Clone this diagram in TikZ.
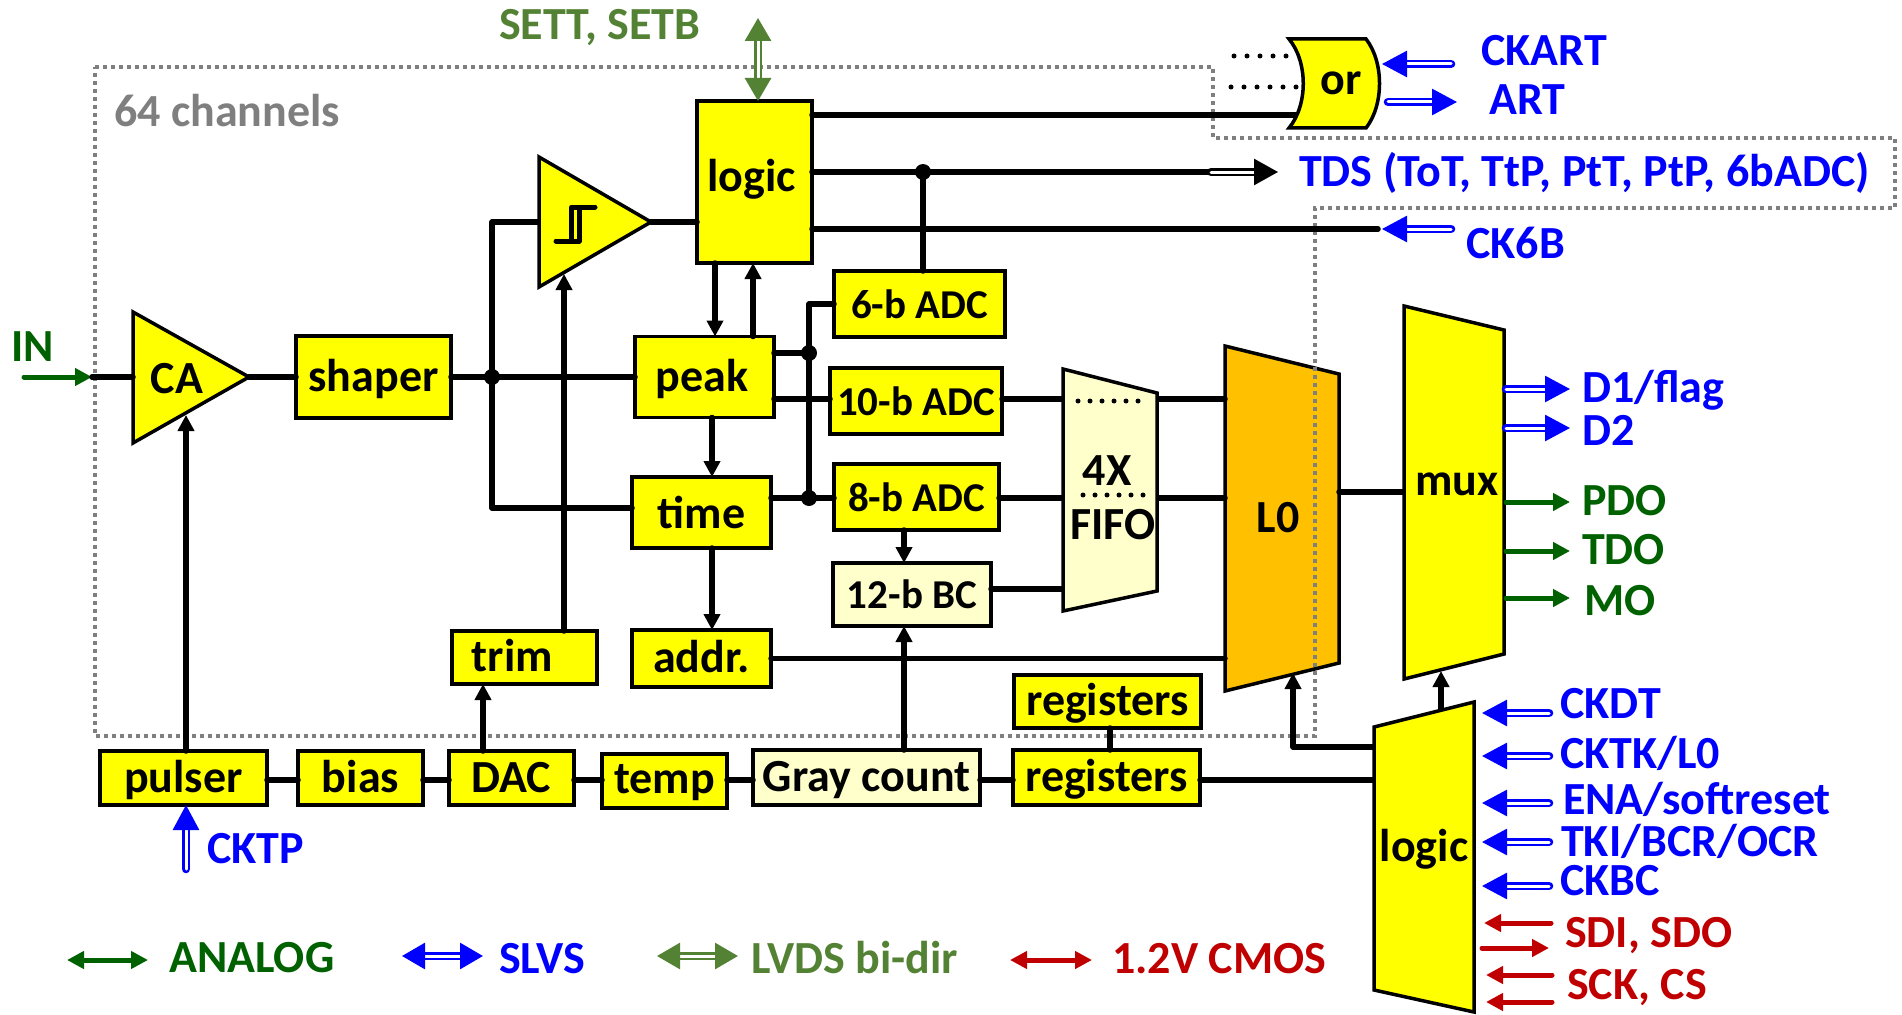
\documentclass[tikz,border=0pt]{standalone}
\usepackage{fontspec}
\setmainfont{Carlito}
\usepackage{tikz}
\usetikzlibrary{positioning,shapes,arrows.meta}
\definecolor{analog}{RGB}{0,97,0}
\definecolor{lvds}{RGB}{84,130,53}
\definecolor{cmosred}{RGB}{192,0,0}
\definecolor{paley}{RGB}{255,255,204}
\definecolor{orng}{RGB}{255,192,0}
\definecolor{yel}{RGB}{255,255,0}
\definecolor{sblue}{RGB}{0,0,255}
\definecolor{chgray}{RGB}{127,127,127}

\begin{document}
\begin{tikzpicture}[x=1pt,y=-1pt]
      \tikzstyle{blk} = [rectangle, draw, line width=3.5pt, fill=yel, inner sep=0pt, outer sep=0pt,
      font=\fontsize{46}{46}\selectfont\bfseries, text height=28pt, text depth=0pt]
      \tikzstyle{adc} = [font=\fontsize{41}{41}\selectfont\bfseries]
      \tikzstyle{poly} = [draw, line width=3.5pt, line join=miter, fill=yel]
      \tikzstyle{lab} = [inner sep=0pt, anchor=west, text height=29pt, text depth=0pt,
      font=\fontsize{46}{46}\selectfont\bfseries]
      \tikzstyle{txt} = [inner sep=0pt, font=\fontsize{46}{46}\selectfont\bfseries]
      \tikzstyle{wire} = [line width=5.5pt, line cap=round, line join=round]
      \tikzstyle{warr} = [wire, -{Triangle[length=16pt,width=16pt]}]
      \tikzstyle{hollow} = [line width=2.8pt, double=white, double distance=3pt, line cap=round]
      \tikzstyle{slvs} = [hollow, sblue, -{Triangle[length=25pt,width=26pt]}]
      \tikzstyle{sig} = [line width=5pt, line cap=round, -{Triangle[length=17pt,width=17pt]}]
      \tikzstyle{dots} = [line width=5pt, line cap=round, dash pattern=on 0pt off 13pt]
      \useasboundingbox (0,0) rectangle (1902,1014);

      % x and y positions of the wires
      \coordinate (x1) at (715,0); \coordinate (x2) at (753,0); \coordinate (x3) at (712,0);
      \coordinate (x4) at (904,0); \coordinate (x5) at (186,0); \coordinate (x6) at (483,0);
      \coordinate (x7) at (564,0); \coordinate (x8) at (1110,0);
      \coordinate (fl) at (1063,0); \coordinate (fr) at (1157,0);
      \coordinate (ll) at (1225,0); \coordinate (lr) at (1339,0); \coordinate (ml) at (1404,0);
      \coordinate (gl) at (1374,0);
      \coordinate (r10) at (0,399); \coordinate (r12) at (0,589); \coordinate (rbus) at (0,780);
      \coordinate (rmux) at (0,492); \coordinate (rlo) at (0,747);

      % L0 and the channel outline
      \fill[draw,line width=3.5pt,fill=orng] (1225,346) -- (1339,374) -- (1339,663) -- (1225,691) -- cycle;
      \draw[chgray,line width=3.5pt,dash pattern=on 4pt off 4pt] (95,67) -- (1213,67) -- (1213,138)
      -- (1895,138) -- (1895,208) -- (1315,208) -- (1315,736) -- (95,736) -- cycle;
      \node[lab,chgray] (chan) at (114,112) {64 channels};

      \coordinate (catip) at (249,377); \coordinate (cmpin) at (539,222); \coordinate (cmptip) at (651,222);
      \coordinate (busl) at (492,222); \coordinate (busb) at (492,508); \coordinate (j1) at (492,377);
      \coordinate (j2) at (923,172); \coordinate (j3) at (809,353); \coordinate (j4) at (809,498);
      \coordinate (orin) at (1300,115); \coordinate (tdsg) at (1211,172); \coordinate (ckg) at (1378,229);
      \coordinate (cab) at (186,415); \coordinate (cmpb) at (564,274);
      \coordinate (muxb) at (1441,671); \coordinate (gt) at (1441,710); \coordinate (lob) at (1293,673);

      \node[blk,minimum width=155pt,minimum height=82pt] (shaper) at (373.5,377) {shaper};
      \node[blk,minimum width=115pt,minimum height=162pt,text depth=10pt] (logic) at (754.5,182) {logic\kern6pt};
      \node[blk,minimum width=139pt,minimum height=81pt] (peak) at (704.5,377) {peak\kern5pt};
      \node[blk,minimum width=139pt,minimum height=71pt,text height=32pt] (time) at (701.5,512.5) {time};
      \node[blk,minimum width=139pt,minimum height=57pt] (addr) at (701.5,658.5) {addr.};
      \node[blk,minimum width=145pt,minimum height=53pt] (trim) at (524.5,657.5) {trim\kern24pt};
      \node[blk,adc,minimum width=171pt,minimum height=66pt] (adc6) at (919.5,304) {6-b ADC};
      \node[blk,adc,minimum width=172pt,minimum height=66pt] (adc10) at (916,401) {10-b ADC};
      \node[blk,adc,minimum width=165pt,minimum height=66pt] (adc8) at (916.5,497) {8-b ADC};
      \node[blk,adc,fill=paley,minimum width=158pt,minimum height=63pt] (bc) at (912,594.5) {12-b BC};
      \node[blk,minimum width=167pt,minimum height=54pt] (pulser) at (183.5,778) {pulser};
      \node[blk,minimum width=125pt,minimum height=54pt] (bias) at (360.5,778) {bias};
      \node[blk,minimum width=125pt,minimum height=54pt] (dac) at (511.5,778) {DAC};
      \node[blk,minimum width=125pt,minimum height=54pt,text height=25pt] (temp) at (664.5,781) {temp};
      \node[blk,fill=paley,minimum width=227pt,minimum height=55pt] (gray) at (866.5,777.5) {Gray count};
      \node[blk,minimum width=187pt,minimum height=55pt] (regl) at (1106.5,777.5) {registers};
      \node[blk,minimum width=187pt,minimum height=53pt] (regu) at (1107.5,701.5) {registers};

      \draw[wire] (catip) -- (shaper.west);
      \draw[wire] (shaper.east) -- (peak.west);
      \draw[wire] (cmpin) -- (busl) -- (busb) -- (time.west |- busb);
      \draw[wire] (cmptip) -- (logic.west |- cmptip);
      \draw[wire] (logic.east |- orin) -- (orin);
      \draw[wire] (logic.east |- tdsg) -- (tdsg);
      \draw[wire] (logic.east |- ckg) -- (ckg);
      \draw[wire] (j2) -- (j2 |- adc6.north);
      \draw[wire] (adc6.west) -- (adc6.west -| j4) -- (j4);
      \draw[wire] (peak.east |- j3) -- (j3);
      \draw[wire] (time.east |- j4) -- (adc8.west |- j4);
      \draw[wire] (peak.east |- r10) -- (adc10.west |- r10);
      \draw[wire] (adc10.east |- r10) -- (fl |- r10);
      \draw[wire] (fr |- r10) -- (ll |- r10);
      \draw[wire] (adc8.east |- j4) -- (fl |- j4);
      \draw[wire] (fr |- j4) -- (ll |- j4);
      \draw[wire] (bc.east |- r12) -- (fl |- r12);
      \draw[wire] (addr.east) -- (ll |- addr.east);
      \draw[wire] (lr |- rmux) -- (ml |- rmux);
      \draw[wire] (pulser.east |- rbus) -- (bias.west |- rbus);
      \draw[wire] (bias.east |- rbus) -- (dac.west |- rbus);
      \draw[wire] (dac.east |- rbus) -- (temp.west |- rbus);
      \draw[wire] (temp.east |- rbus) -- (gray.west |- rbus);
      \draw[wire] (gray.east |- rbus) -- (regl.west |- rbus);
      \draw[wire] (regl.east |- rbus) -- (gl |- rbus);
      \draw[wire] (regu.south -| x8) -- (regl.north -| x8);
      \draw[warr] (logic.south -| x1) -- (peak.north -| x1);
      \draw[warr] (peak.north -| x2) -- (logic.south -| x2);
      \draw[warr] (peak.south -| x3) -- (time.north -| x3);
      \draw[warr] (time.south -| x3) -- (addr.north -| x3);
      \draw[warr] (adc8.south -| x4) -- (bc.north -| x4);
      \draw[warr] (gray.north -| x4) -- (bc.south -| x4);
      \draw[warr] (pulser.north -| x5) -- (cab);
      \draw[warr] (dac.north -| x6) -- (trim.south -| x6);
      \draw[warr] (trim.north -| x7) -- (cmpb);
      \draw[warr] (gt) -- (muxb);
      \draw[warr] (gl |- rlo) -- (lob |- rlo) -- (lob);
      \fill (j1) circle (8pt); \fill (j2) circle (8pt); \fill (j3) circle (8pt); \fill (j4) circle (8pt);

      % amplifier, comparator, gate and muxes
      \draw[poly] (133,312) -- (catip) -- (133,443) -- cycle;
      \node[txt] (ca) at (177,379) {CA};
      \draw[poly] (539,157) -- (cmptip) -- (539,287) -- cycle;
      \draw[line width=5pt,line cap=round,line join=round] (556,241) -- (579,241) -- (579,207) -- (595,207)
      (579,207) -- (571.5,207) -- (571.5,241);
      \draw[poly] (1289,39) -- (1366,39) .. controls (1384,62) and (1384,105) .. (1366,128) -- (1289,128)
      .. controls (1308,105) and (1308,62) .. (1289,39) -- cycle;
      \node[txt] (orgate) at (1341,83) {or};
      \draw[dots] (1234,56) -- (1299,56); \draw[dots] (1231,87) -- (1301,87);
      \fill[draw,line width=3.5pt,fill=paley] (1063,369) -- (1157,393) -- (1157,591) -- (1063,611) -- cycle;
      \draw[dots,dash pattern=on 0pt off 12pt] (1078,401) -- (1138,401);
      \draw[dots,dash pattern=on 0pt off 12pt] (1083,495) -- (1143,495);
      \node[txt] (fourx) at (1107,471) {4X};
      \node[txt] (fifo) at (1113,525) {FIFO};
      \node[txt] (lzero) at (1278,518) {L0};
      \draw[poly] (1404,306) -- (1504,330) -- (1504,654) -- (1404,679) -- cycle;
      \node[txt] (mux) at (1457,484) {mux};
      \draw[poly] (1374,727) -- (1474,702) -- (1474,1012) -- (1374,990) -- cycle;
      \node[txt] (clogic) at (1424,849) {logic};

      % signals
      \coordinate (ina) at (24,377); \coordinate (inb) at (92,377);
      \draw[sig,analog] (ina) -- (inb); \draw[wire] (inb) -- (133,377);
      \node[lab,analog] (in) at (11,347) {IN};
      \node[lab,lvds] (sett) at (499,25) {SETT, SETB};
      \coordinate (setb) at (758,18);
      \draw[hollow,lvds,{Triangle[length=23pt,width=26pt]}-{Triangle[length=23pt,width=26pt]}] (setb) -- (logic.north -| setb);
      \coordinate (ckas) at (1451,64); \coordinate (ckae) at (1382,64);
      \draw[slvs] (ckas) -- (ckae);
      \node[lab,sblue] (ckart) at (1481,51) {CKART};
      \coordinate (arts) at (1388,102); \coordinate (arte) at (1457,102);
      \draw[slvs] (arts) -- (arte);
      \node[lab,sblue] (art) at (1489,100) {ART};
      \coordinate (tdse) at (1278,172);
      \draw[hollow,black,-{Triangle[length=24pt,width=26pt]}] (tdsg) -- (tdse);
      \node[lab,sblue] (tds) at (1299,172) {TDS (ToT, TtP, PtT, PtP, 6bADC)};
      \coordinate (cks) at (1451,229); \coordinate (cke) at (1382,229);
      \draw[slvs] (cks) -- (cke);
      \node[lab,sblue] (ck6b) at (1466,244) {CK6B};

      \coordinate (d1s) at (1506,389); \coordinate (d1e) at (1570,389);
      \draw[slvs] (d1s) -- (d1e);
      \node[lab,sblue] (d1) at (1582,388) {D1/flag};
      \coordinate (d2s) at (1506,428); \coordinate (d2e) at (1570,428);
      \draw[slvs] (d2s) -- (d2e);
      \node[lab,sblue] (d2) at (1582,431) {D2};
      \coordinate (pdos) at (1506,502); \coordinate (pdoe) at (1570,502);
      \draw[sig,analog] (pdos) -- (pdoe);
      \node[lab,analog] (pdo) at (1582,501) {PDO};
      \coordinate (tdos) at (1506,551); \coordinate (tdoe) at (1570,551);
      \draw[sig,analog] (tdos) -- (tdoe);
      \node[lab,analog] (tdo) at (1582,550) {TDO};
      \coordinate (mos) at (1506,598); \coordinate (moe) at (1570,598);
      \draw[sig,analog] (mos) -- (moe);
      \node[lab,analog] (mo) at (1584,601) {MO};

      \coordinate (tps) at (186,869);
      \draw[slvs] (tps) -- (pulser.south -| tps);
      \node[lab,sblue] (cktp) at (207,849) {CKTP};

      \coordinate (dts) at (1549,713); \coordinate (dte) at (1482,713);
      \draw[slvs] (dts) -- (dte);
      \node[lab,sblue] (ckdt) at (1560,704) {CKDT};
      \coordinate (tks) at (1549,756); \coordinate (tke) at (1482,756);
      \draw[slvs] (tks) -- (tke);
      \node[lab,sblue] (cktk) at (1560,754) {CKTK/L0};
      \coordinate (ens) at (1549,803); \coordinate (ene) at (1482,803);
      \draw[slvs] (ens) -- (ene);
      \node[lab,sblue] (ena) at (1563,800) {ENA/softreset};
      \coordinate (tis) at (1549,842); \coordinate (tie) at (1482,842);
      \draw[slvs] (tis) -- (tie);
      \node[lab,sblue] (tki) at (1561,842) {TKI/BCR/OCR};
      \coordinate (bcs) at (1549,886); \coordinate (bce) at (1482,886);
      \draw[slvs] (bcs) -- (bce);
      \node[lab,sblue] (ckbc) at (1560,881) {CKBC};

      \coordinate (sis) at (1551,923); \coordinate (sie) at (1484,923);
      \draw[sig,cmosred] (sis) -- (sie);
      \coordinate (sos) at (1482,948); \coordinate (soe) at (1549,948);
      \draw[sig,cmosred] (sos) -- (soe);
      \node[lab,cmosred] (sdi) at (1565,933) {SDI, SDO};
      \coordinate (sks) at (1552,975); \coordinate (ske) at (1486,975);
      \draw[sig,cmosred] (sks) -- (ske);
      \coordinate (css) at (1552,1002); \coordinate (cse) at (1486,1002);
      \draw[sig,cmosred] (css) -- (cse);
      \node[lab,cmosred] (sck) at (1567,985) {SCK, CS};

      % legend
      \tikzstyle{both} = [{Triangle[length=17pt,width=17pt]}-{Triangle[length=17pt,width=17pt]}]
      \coordinate (las) at (67,960); \coordinate (lae) at (148,960);
      \draw[line width=5pt,analog,both] (las) -- (lae);
      \node[lab,analog] (lana) at (169,958) {ANALOG};
      \coordinate (lbs) at (402,956); \coordinate (lbe) at (483,956);
      \draw[hollow,sblue,{Triangle[length=23pt,width=26pt]}-{Triangle[length=23pt,width=26pt]}] (lbs) -- (lbe);
      \node[lab,sblue] (lslvs) at (499,959) {SLVS};
      \coordinate (lcs) at (657,956); \coordinate (lce) at (738,956);
      \draw[hollow,lvds,{Triangle[length=23pt,width=26pt]}-{Triangle[length=23pt,width=26pt]}] (lcs) -- (lce);
      \node[lab,lvds] (llvds) at (751,959) {LVDS bi-dir};
      \coordinate (lds) at (1010,960); \coordinate (lde) at (1092,960);
      \draw[line width=5pt,cmosred,both] (lds) -- (lde);
      \node[lab,cmosred] (lcmos) at (1112,959) {1.2V CMOS};
\end{tikzpicture}
\end{document}
